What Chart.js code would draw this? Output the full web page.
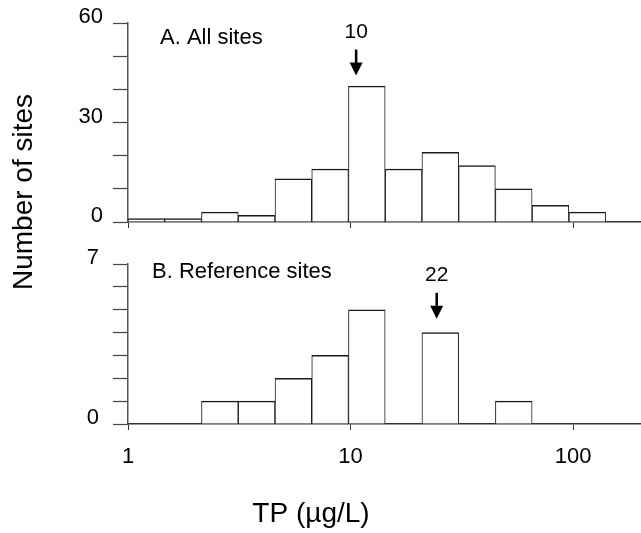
<!doctype html>
<html>
<head>
<title>TP histograms</title>
<script src="https://cdn.jsdelivr.net/npm/chart.js@4.4.0/dist/chart.umd.min.js"></script>
<style>
  * { margin: 0; padding: 0; }
  body { background: #fff; width: 641px; height: 533px; overflow: hidden; }
  #wrap { position: relative; width: 641px; height: 533px; }
  #wrap canvas { position: absolute; left: 0; top: 0; }
</style>
</head>
<body>
<div id="wrap">
  <canvas id="chartA" width="641" height="533"></canvas>
  <canvas id="chartB" width="641" height="533"></canvas>
</div>
<script>
// bin edges (µg/L)
const binEdges = [1, 1.463, 2.139, 3.129, 4.577, 6.695, 9.79, 14.32, 20.95, 30.6, 44.8, 65.5, 95.8, 140.2];
const allSites = [1, 1, 3, 2, 13, 16, 41, 16, 21, 17, 10, 5, 3];
const refSites = [0, 0, 1, 1, 2, 3, 5, 0, 4, 0, 1, 0, 0];

const xTicks = [1, 10, 100];
const yLabelsA = [0, 30, 60];
const yLabelsB = [0, 7];

const panelTitles = ['A. All sites', 'B. Reference sites'];
const arrowAt = [10.6, 24.4];
const arrowText = ['10', '22'];
const arrowTip = [44.2, 4.6];

const FONT = "'Liberation Sans', Arial, Helvetica, sans-serif";
Chart.defaults.font.family = FONT;
Chart.defaults.font.size = 22;
Chart.defaults.color = '#000';

const binCenters = binEdges.slice(0, -1).map((lo, i) => Math.sqrt(lo * binEdges[i + 1]));

const panelText = {
  id: 'panelText',
  afterDraw(chart, args, opts) {
    const { ctx, chartArea } = chart;
    const x = chart.scales.x, y = chart.scales.y;
    const i = opts.index;
    ctx.save();
    ctx.fillStyle = '#000';
    ctx.textBaseline = 'alphabetic';
    ctx.textAlign = 'left';
    ctx.font = '22px ' + FONT;
    ctx.fillText(panelTitles[i], chartArea.left + opts.titleDx, chartArea.top + opts.titleDy);

    // arrow marking the median
    const ax = x.getPixelForValue(arrowAt[i]);
    const tip = y.getPixelForValue(arrowTip[i]);
    ctx.strokeStyle = '#000';
    ctx.lineWidth = 2.5;
    ctx.beginPath();
    ctx.moveTo(ax, tip - 26);
    ctx.lineTo(ax, tip - 8);
    ctx.stroke();
    ctx.beginPath();
    ctx.moveTo(ax - 6.5, tip - 13);
    ctx.lineTo(ax + 6.5, tip - 13);
    ctx.lineTo(ax, tip);
    ctx.closePath();
    ctx.fill();
    ctx.textAlign = 'center';
    ctx.font = '21px ' + FONT;
    ctx.fillText(arrowText[i], ax, tip - 38);

    if (opts.axisTitles) {
      ctx.font = '28px ' + FONT;
      ctx.fillText('TP (\u00b5g/L)', 311, 522);
      ctx.translate(32, 192);
      ctx.rotate(-Math.PI / 2);
      ctx.fillText('Number of sites', 0, 0);
    }
    ctx.restore();
  }
};

function makeChart(id, values, yMax, yLabels, opts) {
  return new Chart(document.getElementById(id), {
    type: 'bar',
    data: {
      datasets: [{
        data: binCenters.map((c, i) => ({ x: c, y: values[i] })),
        backgroundColor: '#fff',
        borderColor: '#1a1a1a',
        borderWidth: { top: 1.5, left: 1, right: 1, bottom: 0 },
        borderSkipped: 'start',
        barPercentage: 1,
        categoryPercentage: 1
      }]
    },
    options: {
      responsive: false,
      animation: false,
      layout: { padding: opts.padding },
      plugins: {
        legend: { display: false },
        tooltip: { enabled: false },
        panelText: opts.text
      },
      scales: {
        x: {
          type: 'logarithmic',
          min: 1,
          max: 200,
          offset: false,
          afterBuildTicks: s => { s.ticks = xTicks.map(v => ({ value: v })); },
          afterFit: s => { s.height = opts.xHeight; },
          grid: { offset: false, drawOnChartArea: false, tickLength: 6, tickColor: '#333', tickWidth: 1 },
          border: { color: '#333', width: 1.5 },
          ticks: {
            display: opts.xLabels,
            padding: 14,
            maxRotation: 0,
            autoSkip: false,
            callback: v => String(v)
          }
        },
        y: {
          min: 0,
          max: yMax,
          afterFit: s => { s.width = 128; },
          grid: { drawOnChartArea: false, tickLength: 15, tickColor: '#444', tickWidth: 1.2 },
          border: { color: '#555', width: 1.5 },
          ticks: {
            stepSize: yMax === 60 ? 10 : 1,
            autoSkip: false,
            padding: opts.yPad,
            labelOffset: -6,
            callback: v => yLabels.includes(v) ? String(v) : ''
          }
        }
      }
    },
    plugins: [panelText]
  });
}

makeChart('chartA', allSites, 60, yLabelsA, {
  padding: { top: 22, left: 0, right: 1, bottom: 301 },
  xHeight: 10,
  xLabels: false,
  yPad: 10,
  text: { index: 0, titleDx: 32, titleDy: 20.5, axisTitles: false }
});

makeChart('chartB', refSites, 7, yLabelsB, {
  padding: { top: 264, left: 0, right: 1, bottom: 49 },
  xHeight: 60,
  xLabels: true,
  yPad: 14,
  text: { index: 1, titleDx: 24, titleDy: 14, axisTitles: true }
});
</script>
</body>
</html>
